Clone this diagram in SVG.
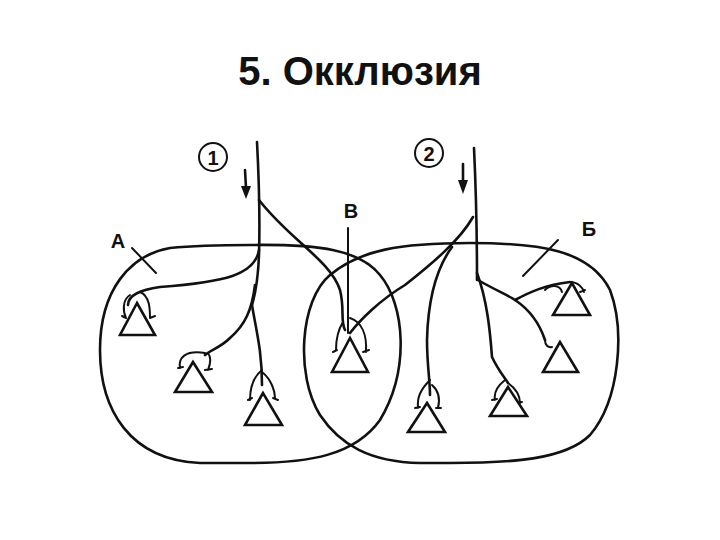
<svg xmlns="http://www.w3.org/2000/svg" width="720" height="540" viewBox="0 0 720 540">
<style>
.l{fill:none;stroke:#111;stroke-width:2.6;stroke-linecap:round;stroke-linejoin:round}
.t{fill:none;stroke:#111;stroke-width:2;stroke-linecap:round}
.n{fill:#fff;stroke:#111;stroke-width:2.6}
.lbl{font-family:"Liberation Sans",Arial,sans-serif;font-weight:bold;fill:#111}
</style>
<rect width="720" height="540" fill="#fff"/>
<text class="lbl" x="360" y="85" font-size="40" text-anchor="middle">5. Окклюзия</text>
<g id="regionA"><path class="l" d="M250 245 C320 244 360 250 380 275 C405 305 410 370 380 420 C355 455 310 463 250 463 L200 463 C130 460 100 410 100 350 C100 290 130 255 170 248 C200 245 220 245 250 245 Z"/></g>
<g id="regionB"><path class="l" d="M470 243 C540 243 590 250 610 290 C625 330 620 400 590 435 C565 460 510 463 450 463 L420 463 C370 462 340 445 320 415 C295 375 300 300 330 275 C360 250 400 243 470 243 Z"/></g>
<g id="connectors">
<path class="l" d="M257 142 C259 180 260 220 259 255 C258 280 255 295 252 305"/>
<path class="l" d="M259 200 C290 240 330 260 340 290 C345 310 340 320 345 330"/>
<path class="l" d="M259 250 C255 275 225 282 160 287 C140 290 128 295 128 305"/>
<path class="l" d="M255 285 C252 310 245 325 230 338 C220 348 210 350 205 355"/>
<path class="l" d="M252 305 C256 330 262 350 262 385"/>
<path class="l" d="M474 148 C476 190 477 240 477 280"/>
<path class="l" d="M473 217 C460 240 433 263 405 285 C380 300 360 320 350 333"/>
<path class="l" d="M452 247 C435 270 428 300 427 340 C427 365 430 380 430 395"/>
<path class="l" d="M477 273 C487 300 490 330 492 357 C498 370 505 378 508 383"/>
<path class="l" d="M478 280 C495 290 508 295 515 300 C530 310 540 325 545 340"/>
<path class="l" d="M515 300 C530 292 545 285 570 282"/>
<path class="l" d="M245 170 L246 188"/><polygon points="241,186 251,186 246,199" fill="#111"/>
<path class="l" d="M463 164 L463 182"/><polygon points="458,180 468,180 463,194" fill="#111"/>
<path class="t" d="M132 248 L156 273"/>
<path class="t" d="M348 228 L348 333"/>
<path class="t" d="M558 240 L523 276"/>
<g class="t">
<path d="M130 295 C122 300 123 312 126 318 M140 292 C150 296 150 310 150 318 M122 316 L126 318 M150 318 L155 316"/>
<path d="M205 353 C185 350 178 358 180 368 M208 353 C212 358 210 365 208 370 M178 368 L183 367 M205 370 L212 369"/>
<path d="M262 370 C252 378 250 392 250 400 M262 372 C272 380 275 392 275 398 M248 400 L252 398 M273 398 L278 400"/>
<path d="M343 322 C338 330 336 342 336 350 M350 318 C362 322 367 335 366 352 M333 352 L337 350 M363 352 L369 350"/>
<path d="M430 380 C420 390 417 398 418 408 M432 385 C440 392 440 400 438 408 M415 408 L420 407 M436 408 L441 408"/>
<path d="M505 380 C495 388 494 395 495 400 M508 383 C518 390 520 398 520 403 M492 400 L497 399 M518 403 L522 402"/>
<path d="M545 340 C545 345 548 348 552 347"/>
<path d="M570 282 C578 282 583 288 584 292 M545 290 C550 285 560 284 562 292 M580 292 L585 290"/>
</g>
</g>
<g id="label1"><circle cx="213" cy="157" r="14" fill="none" stroke="#111" stroke-width="2"/><text class="lbl" x="213" y="165" font-size="20" text-anchor="middle">1</text></g>
<g id="label2"><circle cx="429" cy="153" r="14" fill="none" stroke="#111" stroke-width="2"/><text class="lbl" x="429" y="161" font-size="20" text-anchor="middle">2</text></g>
<g id="labelA"><text class="lbl" x="118" y="248" font-size="20" text-anchor="middle">А</text></g>
<g id="labelV"><text class="lbl" x="351" y="218" font-size="20" text-anchor="middle">В</text></g>
<g id="labelB"><text class="lbl" x="589" y="236" font-size="20" text-anchor="middle">Б</text></g>
<g id="neurons">
<polygon class="n" points="137,303 120,335 155,335"/>
<polygon class="n" points="193,362 175,392 212,392"/>
<polygon class="n" points="263,393 245,425 282,425"/>
<polygon class="n" points="350,338 332,372 368,372"/>
<polygon class="n" points="427,403 408,432 445,432"/>
<polygon class="n" points="508,387 490,416 527,416"/>
<polygon class="n" points="560,342 543,372 578,372"/>
<polygon class="n" points="572,283 553,315 590,315"/>
</g>
</svg>
